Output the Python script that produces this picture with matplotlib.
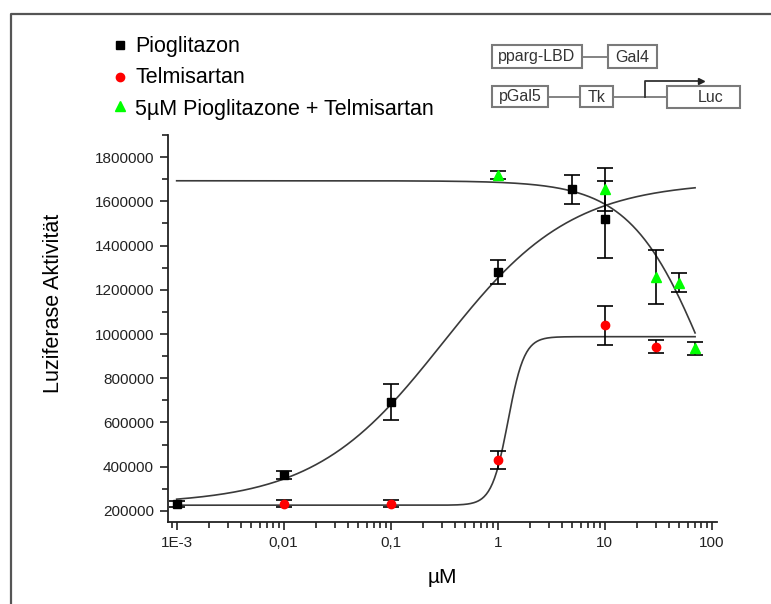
import numpy as np
import matplotlib
matplotlib.use("Agg")
import matplotlib.pyplot as plt
from matplotlib.lines import Line2D
from matplotlib.patches import Rectangle
from matplotlib.ticker import LogLocator, NullFormatter, MultipleLocator

plt.rcParams['font.family'] = ['Liberation Sans', 'DejaVu Sans']

# ---------------- data ----------------
pio_x = [0.001, 0.01, 0.1, 1, 5, 10]
pio_y = [233000, 362000, 693000, 1280000, 1654000, 1518000]
pio_err = [14000, 18000, 80000, 55000, 64000, 174000]

tel_x = [0.01, 0.1, 1, 10, 30]
tel_y = [233000, 233000, 430000, 1040000, 942000]
tel_err = [15000, 15000, 41000, 88000, 30000]

combo_x = [1, 10, 30, 50, 70]
combo_y = [1719000, 1654000, 1259000, 1232000, 935000]
combo_err = [20000, 99000, 122000, 44000, 28000]

# fitted dose-response parameters (bottom, top, EC50, hill)
pio_fit = (230000, 1690000, 0.307, 0.72)
tel_fit = (226000, 988000, 1.25, 5.7)
combo_fit = (0, 1693000, 96.0, 1.2)   # inhibition curve
fit_range = (0.001, 70)

labels = ["Pioglitazon", "Telmisartan", "5µM Pioglitazone + Telmisartan"]
xtick_vals = [1e-3, 1e-2, 1e-1, 1, 10, 100]
xtick_labels = ["1E-3", "0,01", "0,1", "1", "10", "100"]
ytick_vals = list(range(200000, 1800001, 200000))

# ---------------- figure ----------------
W, H = 771, 604
fig = plt.figure(figsize=(W / 100, H / 100), dpi=100)

def fx(x):
    return x / W

def fy(y):
    return 1 - y / H

ax_l, ax_r, ax_t, ax_b = 168, 717, 135, 522
ax = fig.add_axes([fx(ax_l), fy(ax_b), (ax_r - ax_l) / W, (ax_b - ax_t) / H])
ax.set_xscale('log')
ax.set_xlim(10 ** -3.081, 10 ** 2.05)
ax.set_ylim(150000, 1900000)

xs = np.logspace(np.log10(fit_range[0]), np.log10(fit_range[1]), 500)

def rise(x, p):
    b, t, ec, h = p
    return b + (t - b) / (1 + (ec / x) ** h)

def fall(x, p):
    b, t, ec, h = p
    return b + (t - b) / (1 + (x / ec) ** h)

line_c = '#3a3a3a'
ax.plot(xs, rise(xs, pio_fit), color=line_c, lw=1.2, zorder=2)
ax.plot(xs, rise(xs, tel_fit), color=line_c, lw=1.2, zorder=2)
ax.plot(xs, fall(xs, combo_fit), color=line_c, lw=1.2, zorder=2)

eb_kw = dict(ecolor='black', elinewidth=1.2, capsize=5.5, capthick=1.2, ls='none', zorder=3)
ax.errorbar(pio_x, pio_y, yerr=pio_err, marker='s', ms=6, mfc='black', mec='black', **eb_kw)
ax.errorbar(tel_x, tel_y, yerr=tel_err, marker='o', ms=6, mfc='#ff0000', mec='#ff0000', **eb_kw)
ax.errorbar(combo_x, combo_y, yerr=combo_err, marker='^', ms=7.5, mfc='#00ff00', mec='#00ff00', **eb_kw)

for s in ['top', 'right']:
    ax.spines[s].set_visible(False)
for s in ['left', 'bottom']:
    ax.spines[s].set_linewidth(1.3)
    ax.spines[s].set_color('#222222')

ax.set_xticks(xtick_vals)
ax.set_xticklabels(xtick_labels)
ax.xaxis.set_minor_locator(LogLocator(base=10, subs=np.arange(2, 10), numticks=20))
ax.xaxis.set_minor_formatter(NullFormatter())
ax.set_yticks(ytick_vals)
ax.set_yticklabels([str(v) for v in ytick_vals])
ax.yaxis.set_minor_locator(MultipleLocator(100000))

ax.tick_params(axis='both', which='major', direction='out', length=6, width=1.2,
               colors='#222222', labelsize=11, pad=4)
ax.tick_params(axis='both', which='minor', direction='out', length=4.5, width=1.2,
               colors='#222222')
ax.tick_params(axis='x', which='major', pad=4)

ax.set_xlabel("µM", fontsize=15, color='black')
ax.xaxis.set_label_coords(0.5, -0.118)
ax.set_ylabel("Luziferase Aktivität", fontsize=15.5, color='black')
ax.yaxis.set_label_coords(-0.19, 0.566)

# ---------------- legend (manual) ----------------
leg_rows = [("s", "black", 5.5, 45, 52.3), ("o", "#ff0000", 6, 77, 83), ("^", "#00ff00", 7.5, 106, 115)]
for (mk, col, ms, ym, yb), lab in zip(leg_rows, labels):
    fig.add_artist(Line2D([fx(120)], [fy(ym)], marker=mk, ms=ms, mfc=col, mec=col,
                          ls='none', transform=fig.transFigure))
    fig.text(fx(135), fy(yb), lab, fontsize=15.5, ha='left', va='baseline', color='black')

# ---------------- construct diagram ----------------
box_c = '#7a7a7a'

def box(x0, y0, x1, y1):
    fig.add_artist(Rectangle((fx(x0), fy(y1)), (x1 - x0) / W, (y1 - y0) / H,
                             transform=fig.transFigure, fill=False, ec=box_c, lw=1.5))

def hline(x0, x1, y):
    fig.add_artist(Line2D([fx(x0), fx(x1)], [fy(y), fy(y)], transform=fig.transFigure,
                          color=box_c, lw=1.3))

box(492, 45, 582, 68)
box(608, 45, 657, 68)
hline(582, 608, 56.7)
box(492, 86, 548, 107)
box(580, 86, 613, 107)
box(667, 86, 740, 108)
hline(548, 580, 96.7)
hline(613, 667, 96.7)
fig.add_artist(Line2D([fx(645), fx(645), fx(698)], [fy(96.7), fy(80.7), fy(80.7)],
                      transform=fig.transFigure, color='#333333', lw=1.3))
fig.add_artist(Line2D([fx(701)], [fy(80.7)], marker='>', ms=5, mfc='#222222', mec='#222222',
                      transform=fig.transFigure))

dtxt = dict(fontsize=11.5, ha='center', va='center', color='#333333')
fig.text(fx(537), fy(57), "pparg-LBD", **dtxt)
fig.text(fx(632.5), fy(57), "Gal4", **dtxt)
fig.text(fx(520), fy(97), "pGal5", **dtxt)
fig.text(fx(596.5), fy(97), "Tk", **dtxt)
fig.text(fx(711), fy(97.5), "Luc", **dtxt)

# ---------------- outer frame ----------------
fig.add_artist(Line2D([fx(11), fx(11), fx(771)], [fy(604), fy(14), fy(14)],
                      transform=fig.transFigure, color='#555555', lw=1.6))

fig.savefig("out.png", dpi=100)
